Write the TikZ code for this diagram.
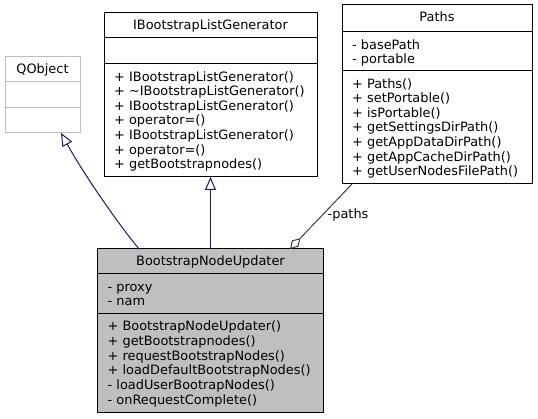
\documentclass[tikz,border=0pt]{standalone}
\usepackage{fontspec}
\setmainfont{DejaVu Sans}
\usetikzlibrary{arrows.meta}
\definecolor{inheritblue}{HTML}{191970}
\definecolor{usegray}{HTML}{404040}
\definecolor{focusfill}{HTML}{BFBFBF}
\definecolor{extborder}{HTML}{BFBFBF}

\begin{document}
\begin{tikzpicture}[x=1pt,y=-1pt,
  umlfont/.style={font=\fontsize{12.9}{14.65}\selectfont},
  classbox/.style={draw=black, line width=1pt, rectangle, inner sep=0pt,
    outer sep=0pt, anchor=north west},
  divider/.style={draw=black, line width=1pt},
  classname/.style={umlfont, anchor=base, inner sep=0pt},
  members/.style={umlfont, anchor=north west, inner sep=0pt, align=left},
  inherit/.style={draw=inheritblue, line width=1pt,
    -{Triangle[open, length=13pt, width=11pt]}},
  uses/.style={draw=usegray, line width=1pt,
    {Diamond[open, length=15pt, width=9pt]}-},
]
\useasboundingbox (0,0) rectangle (538,419);

% QObject (external class)
\node[classbox, draw=extborder, minimum width=75pt, minimum height=76pt] (qobj) at (5,57) {};
\draw[draw=extborder, line width=1pt] (5,82) -- (80,82) (5,108) -- (80,108);
\node[classname] (qobjname) at (42.5,73.8) {QObject};

% IBootstrapListGenerator
\node[classbox, minimum width=213pt, minimum height=164pt] (iblg) at (104,13) {};
\draw[divider] (104,38) -- (317,38) (104,64) -- (317,64);
\node[classname] (iblgname) at (210.5,29.8) {IBootstrapListGenerator};
\node[members] (iblgops) at (114,70.55) {\strut+ IBootstrapListGenerator()\\
\strut+ \textasciitilde IBootstrapListGenerator()\\
\strut+ IBootstrapListGenerator()\\
\strut+ operator=()\\
\strut+ IBootstrapListGenerator()\\
\strut+ operator=()\\
\strut+ getBootstrapnodes()};

% Paths
\node[classbox, minimum width=190.5pt, minimum height=179pt] (paths) at (342,5) {};
\draw[divider] (342,32) -- (532.5,32) (342,71) -- (532.5,71);
\node[classname] (pathsname) at (437,21.8) {Paths};
\node[members] (pathsattr) at (352,38.55) {\strut- basePath\\
\strut- portable};
\node[members] (pathsops) at (352,77.55) {\strut+ Paths()\\
\strut+ setPortable()\\
\strut+ isPortable()\\
\strut+ getSettingsDirPath()\\
\strut+ getAppDataDirPath()\\
\strut+ getAppCacheDirPath()\\
\strut+ getUserNodesFilePath()};

% BootstrapNodeUpdater
\node[classbox, fill=focusfill, minimum width=226pt, minimum height=163pt] (bnu) at (97.5,249) {};
\draw[divider] (97.5,274) -- (323.5,274) (97.5,314) -- (323.5,314);
\node[classname] (bnuname) at (210.5,265.8) {BootstrapNodeUpdater};
\node[members] (bnuattr) at (107.5,280.55) {\strut- proxy\\
\strut- nam};
\node[members] (bnuops) at (107.5,320.45) {\strut+ BootstrapNodeUpdater()\\
\strut+ getBootstrapnodes()\\
\strut+ requestBootstrapNodes()\\
\strut+ loadDefaultBootstrapNodes()\\
\strut- loadUserBootrapNodes()\\
\strut- onRequestComplete()};

% Relations
\draw[inherit] ([xshift=41.5pt]bnu.north west)
  .. controls (120,226) and (86,178) .. ([xshift=56pt]qobj.south west);
\draw[inherit] ([xshift=113pt]bnu.north west) -- (iblg.south);
\draw[uses] ([xshift=192.5pt]bnu.north west) -- ([xshift=10pt]paths.south west);
\node[umlfont, anchor=west, inner sep=0pt] (pathslabel) at (327.5,215) {-paths};
\end{tikzpicture}
\end{document}
